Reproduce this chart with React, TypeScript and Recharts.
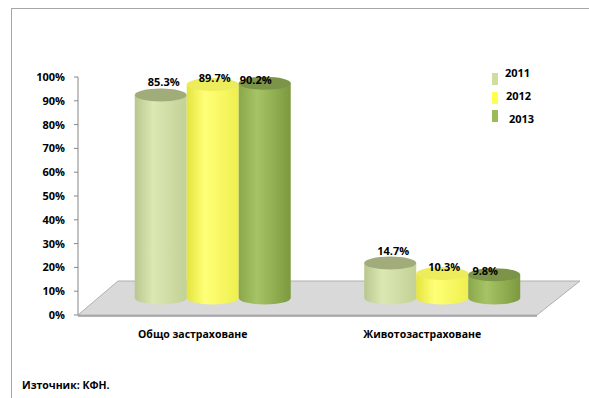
import React from "react";
import {
  BarChart,
  Bar,
  XAxis,
  YAxis,
  LabelList,
  ReferenceLine,
} from "recharts";

const categories = ["Общо застраховане", "Животозастраховане"];
const years = ["2011", "2012", "2013"];
const values2011 = [85.3, 14.7];
const values2012 = [89.7, 10.3];
const values2013 = [90.2, 9.8];
const yTicks = [0, 10, 20, 30, 40, 50, 60, 70, 80, 90, 100];

const data = categories.map((category, i) => ({
  category,
  y2011: values2011[i],
  y2012: values2012[i],
  y2013: values2013[i],
}));

// 3d look: cylinders sit half way into the floor
const DX = 20;
const DY = -17;
const RY = 6.5;
const FONT = "'Open Sans', 'DejaVu Sans', sans-serif";

const palettes = [
  { id: "g2011", left: "#b9c78f", mid: "#dce8b3", right: "#c2d196", top: "#a0ad7b", legend: "#cfdea0" },
  { id: "g2012", left: "#e4e43e", mid: "#ffff78", right: "#efef4e", top: "#ecec5c", legend: "#ffff50" },
  { id: "g2013", left: "#8aa84b", mid: "#a6c465", right: "#7d993f", top: "#7b9447", legend: "#9bbb59" },
];
// where Excel dropped each series' labels
const labelShift = [
  { dx: 3, dy: -13 },
  { dx: 2, dy: -7 },
  { dx: -9, dy: -4 },
];

function Cylinder(props: any) {
  const { x, y, width, height, pal } = props;
  if (width == null || height == null) return null;
  const rx = width / 2;
  const x0 = x + DX;
  const x1 = x + width + DX;
  const top = y + DY;
  const bottom = y + height + DY;
  const d = `M${x0},${top} L${x0},${bottom} A${rx},${RY} 0 0 0 ${x1},${bottom} L${x1},${top} Z`;
  return (
    <g>
      <path d={d} fill={`url(#${pal.id})`} />
      <ellipse cx={x0 + rx} cy={top} rx={rx} ry={RY} fill={pal.top} />
    </g>
  );
}

function makeLabel(shift: { dx: number; dy: number }) {
  return (props: any) => {
    const { x, y, width, value } = props;
    return (
      <text
        x={x + width / 2 + DX + shift.dx}
        y={y + DY + shift.dy}
        textAnchor="middle"
        dominantBaseline="central"
        fontFamily={FONT}
        fontWeight={700}
        fontSize={11}
        fill="#000"
      >
        {`${value.toFixed(1)}%`}
      </text>
    );
  };
}

function Floor(props: any) {
  const { x1, y1, x2, y2 } = props;
  if (x1 == null) return null;
  const pts = `${x1},${y1} ${x2},${y2} ${x2 + 43},${y2 - 34} ${x1 + 40},${y1 - 34}`;
  return (
    <g>
      <polygon points={pts} fill="#d9d9d9" stroke="#b0b0b0" strokeWidth={1} />
      <line x1={x1} y1={y1 + 1} x2={x2} y2={y2 + 1} stroke="#9a9a9a" strokeWidth={1.5} />
    </g>
  );
}

const legendRows = [
  { markTop: 73, textY: 72, textX: 505 },
  { markTop: 92, textY: 95, textX: 506 },
  { markTop: 110, textY: 118, textX: 509 },
];

function LegendBox() {
  return (
    <svg width={120} height={70} style={{ position: "absolute", left: 470, top: 55 }}>
      {years.map((yr, i) => (
        <g key={yr}>
          <rect x={492 - 470} y={legendRows[i].markTop - 55} width={6} height={12} fill={palettes[i].legend} />
          <text
            x={legendRows[i].textX - 470}
            y={legendRows[i].textY - 55}
            dominantBaseline="central"
            fontFamily={FONT}
            fontWeight={700}
            fontSize={11}
            fill="#000"
          >
            {yr}
          </text>
        </g>
      ))}
    </svg>
  );
}

const W = 589;
const H = 398;
const M = { top: 77, right: 52, left: 18, bottom: 53 };

export default function App() {
  return (
    <div style={{ position: "absolute", left: 0, top: 0, width: W, height: H, background: "#fff", overflow: "hidden" }}>
      <div
        style={{
          position: "absolute",
          left: 11,
          top: 8,
          width: 600,
          height: 400,
          borderLeft: "1px solid #a6a6a6",
          borderTop: "1px solid #a6a6a6",
        }}
      />
      {/* back layer: axes and floor */}
      <div style={{ position: "absolute", left: 0, top: 0 }}>
        <BarChart width={W} height={H} data={data} margin={M}>
          <XAxis
            dataKey="category"
            axisLine={false}
            tickLine={false}
            tickMargin={10}
            height={30}
            tick={{ fontFamily: FONT, fontWeight: 700, fontSize: 10.5, fill: "#000" }}
          />
          <YAxis
            type="number"
            domain={[0, 100]}
            allowDataOverflow
            ticks={yTicks}
            width={60}
            tickFormatter={(v) => `${v}%`}
            axisLine={{ stroke: "#868686" }}
            tickLine={{ stroke: "#868686" }}
            tickSize={4}
            tickMargin={9}
            tick={{ fontFamily: FONT, fontWeight: 700, fontSize: 11, fill: "#000" }}
          />
          <ReferenceLine y={0} shape={<Floor />} ifOverflow="visible" />
        </BarChart>
      </div>
      {/* front layer: cylinders and labels */}
      <div style={{ position: "absolute", left: 0, top: 0 }}>
        <BarChart
          width={W}
          height={H}
          data={data}
          margin={{ top: M.top, right: M.right, left: M.left + 60, bottom: M.bottom + 30 }}
          barCategoryGap="16%"
          barGap={0}
        >
          <defs>
            {palettes.map((p) => (
              <linearGradient key={p.id} id={p.id} x1="0" y1="0" x2="1" y2="0">
                <stop offset="0%" stopColor={p.left} />
                <stop offset="35%" stopColor={p.mid} />
                <stop offset="100%" stopColor={p.right} />
              </linearGradient>
            ))}
          </defs>
          <XAxis dataKey="category" hide />
          <YAxis domain={[0, 100]} ticks={yTicks} hide />
          <Bar dataKey="y2011" name={years[0]} isAnimationActive={false} shape={<Cylinder pal={palettes[0]} />}>
            <LabelList dataKey="y2011" content={makeLabel(labelShift[0])} />
          </Bar>
          <Bar dataKey="y2012" name={years[1]} isAnimationActive={false} shape={<Cylinder pal={palettes[1]} />}>
            <LabelList dataKey="y2012" content={makeLabel(labelShift[1])} />
          </Bar>
          <Bar dataKey="y2013" name={years[2]} isAnimationActive={false} shape={<Cylinder pal={palettes[2]} />}>
            <LabelList dataKey="y2013" content={makeLabel(labelShift[2])} />
          </Bar>
        </BarChart>
      </div>
      <LegendBox />
      <div
        style={{
          position: "absolute",
          left: 22,
          top: 378,
          fontFamily: FONT,
          fontWeight: 700,
          fontSize: 10.5,
          color: "#000",
        }}
      >
        Източник: КФН.
      </div>
    </div>
  );
}
